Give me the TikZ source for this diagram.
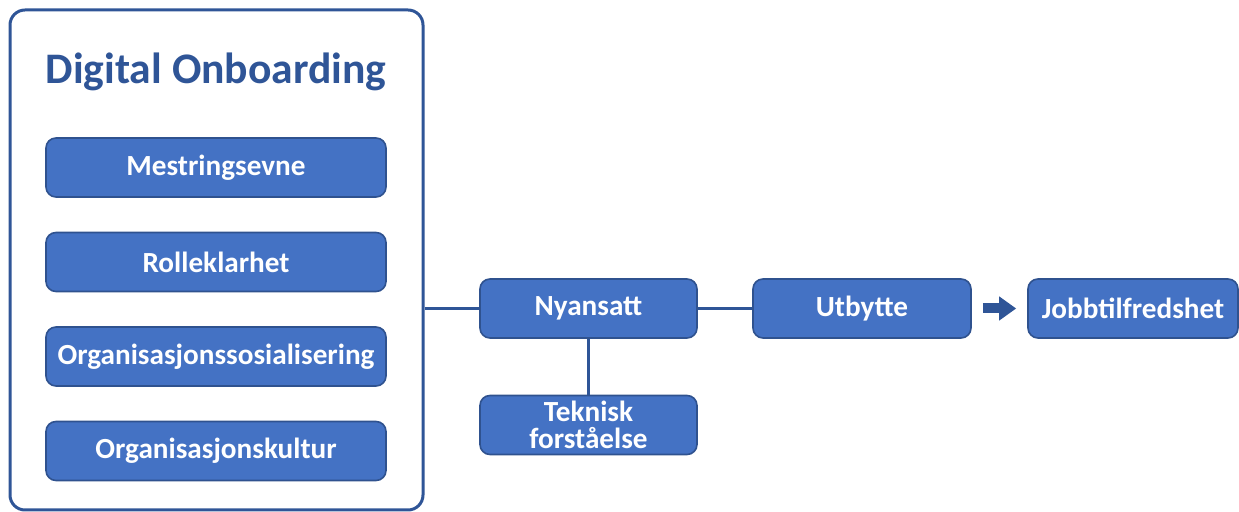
\documentclass[tikz,border=0pt]{standalone}
\usepackage{fontspec}
\setmainfont{Carlito}
\usepackage{tikz}
\usetikzlibrary{arrows.meta, positioning, calc}
\definecolor{boxblue}{RGB}{68,114,196}
\definecolor{edgeblue}{RGB}{47,82,143}
\definecolor{lineblue}{RGB}{47,85,151}

\begin{document}
\begin{tikzpicture}[x=0.5pt, y=-0.5pt,
    factor/.style={draw=edgeblue, line width=0.8pt, fill=boxblue, rounded corners=5pt,
      text=white, font=\fontsize{14.6}{15}\selectfont\bfseries, align=center,
      minimum width=170pt, minimum height=29.5pt, inner sep=0pt},
    link/.style={draw=lineblue, line width=1.5pt},
    bigarrow/.style={draw=lineblue, line width=5pt, -{Triangle[width=11.5pt, length=8.5pt]},
      shorten <=5.5pt, shorten >=5.5pt}]
  \useasboundingbox (0,0) rectangle (1239,512);

  \node[draw=lineblue, line width=1.5pt, rounded corners=7.5pt,
    minimum width=206.5pt, minimum height=250pt, inner sep=0pt] (frame) at (216.5,260) {};
  \node[text=lineblue, font=\fontsize{21.8}{22}\selectfont\bfseries] (title) at (216,72) {Digital Onboarding};

  \node[factor] (mestring) at (216,167.5) {Mestringsevne};
  \node[factor] (rolle) at (216,262) {Rolleklarhet};
  \node[factor] (sosial) at (216,356.5) {Organisasjonssosialisering};
  \node[factor] (kultur) at (216,451) {Organisasjonskultur};

  \node[factor, minimum width=108.5pt] (nyansatt) at (588.5,308.5) {Nyansatt};
  \node[factor, minimum width=108.5pt, font=\fontsize{14.6}{13.5}\selectfont\bfseries] (teknisk) at (588.5,425) {Teknisk\\forståelse};
  \node[factor, minimum width=109pt] (utbytte) at (862,308.5) {Utbytte};
  \node[factor, minimum width=105pt] (jobb) at (1133,308.5) {Jobbtilfredshet};

  \draw[link] (frame.east |- nyansatt) -- (nyansatt.west);
  \draw[link] (nyansatt) -- (teknisk);
  \draw[link] (nyansatt) -- (utbytte);
  \draw[bigarrow] (utbytte) -- (jobb);
\end{tikzpicture}
\end{document}
